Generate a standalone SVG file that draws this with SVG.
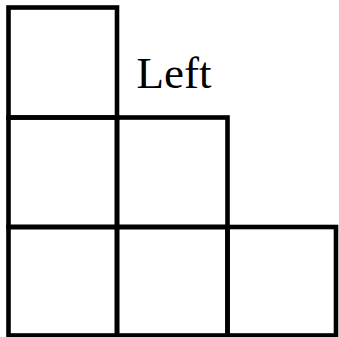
<svg xmlns="http://www.w3.org/2000/svg" width="339" height="337" viewBox="0 0 339 337">
<style>
.cell{fill:none;stroke:#000;stroke-width:4.6;stroke-linecap:square}
.lbl{font-family:"Liberation Serif","Times New Roman",serif;font-size:45px;fill:#000}
</style>
<rect width="339" height="337" fill="#fff"/>
<g id="c11"><rect class="cell" x="8.5" y="7.5" width="108.5" height="110"/></g>
<g id="c21"><rect class="cell" x="8.5" y="117.5" width="108.5" height="109.5"/></g>
<g id="c22"><rect class="cell" x="117" y="117.5" width="110.5" height="109.5"/></g>
<g id="c31"><rect class="cell" x="8.5" y="227" width="108.5" height="108.5"/></g>
<g id="c32"><rect class="cell" x="117" y="227" width="110.5" height="108.5"/></g>
<g id="c33"><rect class="cell" x="227.5" y="227" width="108.5" height="108.5"/></g>
<g id="label"><text class="lbl" x="136.5" y="88">Left</text></g>
</svg>
